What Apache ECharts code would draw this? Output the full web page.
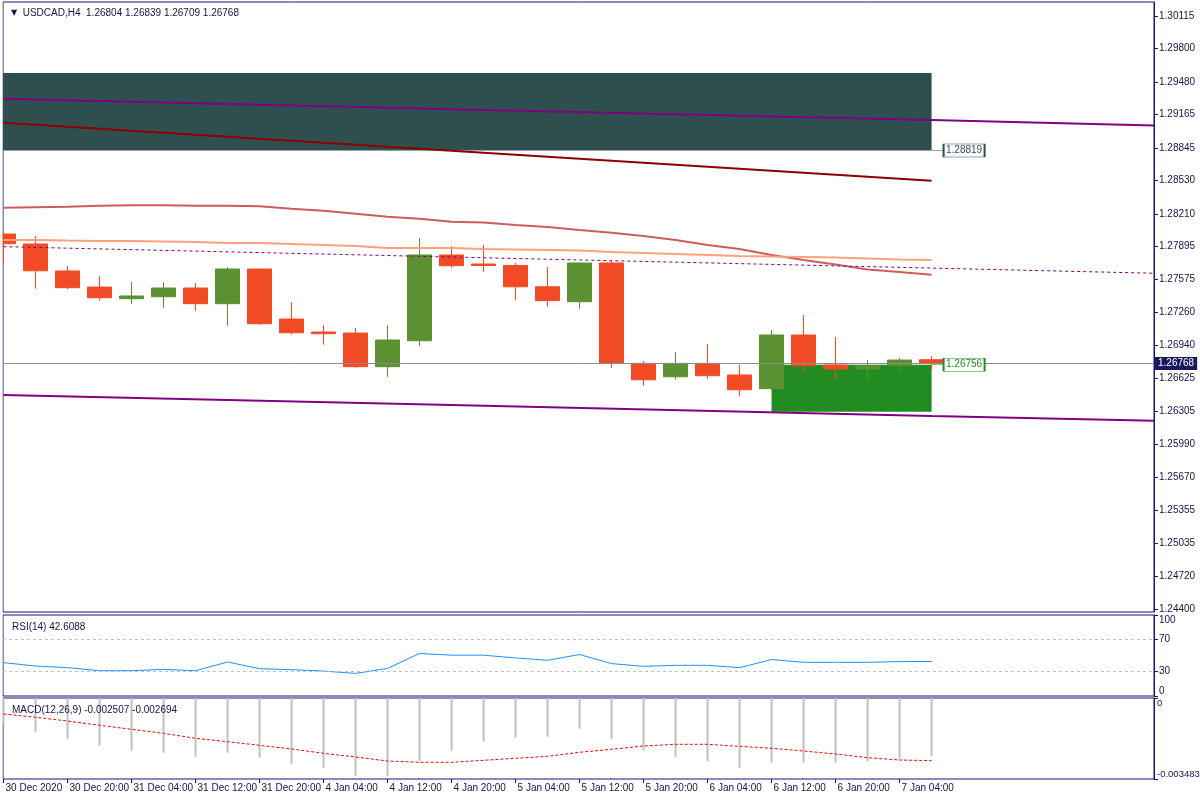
<!DOCTYPE html>
<html><head><meta charset="utf-8">
<script src="https://cdn.jsdelivr.net/npm/echarts@6/dist/echarts.min.js"></script>
<style>html,body{margin:0;padding:0;background:#fff}#c{width:1200px;height:800px}</style>
</head><body><div id="c"></div><script>
// ---- data ----
const timeLabels = ['30 Dec 2020','30 Dec 20:00','31 Dec 04:00','31 Dec 12:00','31 Dec 20:00','4 Jan 04:00','4 Jan 12:00','4 Jan 20:00','5 Jan 04:00','5 Jan 12:00','5 Jan 20:00','6 Jan 04:00','6 Jan 12:00','6 Jan 20:00','7 Jan 04:00'];
const opens  = [1.28015,1.27919,1.27659,1.27504,1.27392,1.27411,1.27495,1.27344,1.27678,1.27196,1.27071,1.27061,1.26737,1.26987,1.27813,1.27726,1.27712,1.27507,1.27363,1.27736,1.26769,1.26640,1.26769,1.26657,1.26525,1.27042,1.26753,1.26715,1.26746,1.26804];
const highs  = [1.28037,1.27996,1.27707,1.27610,1.27553,1.27553,1.27543,1.27697,1.27680,1.27360,1.27138,1.27110,1.27138,1.27977,1.27899,1.27909,1.27739,1.27697,1.27740,1.27755,1.26792,1.26878,1.26955,1.26756,1.27090,1.27235,1.27023,1.26801,1.26821,1.26839];
const lows   = [1.27726,1.27488,1.27485,1.27373,1.27344,1.27305,1.27276,1.27132,1.27138,1.27045,1.26949,1.26727,1.26640,1.26939,1.27690,1.27652,1.27382,1.27315,1.27295,1.26727,1.26554,1.26611,1.26621,1.26457,1.26515,1.26689,1.26611,1.26621,1.26698,1.26709];
const closes = [1.27922,1.27661,1.27498,1.27401,1.27418,1.27495,1.27344,1.27678,1.27151,1.27064,1.27055,1.26737,1.26994,1.27813,1.27710,1.27712,1.27507,1.27373,1.27736,1.26769,1.26611,1.26769,1.26650,1.26515,1.27042,1.26746,1.26715,1.26746,1.26801,1.26768];

const maIndianRed = [1.28268,1.28273,1.28278,1.28288,1.28292,1.28292,1.28288,1.28288,1.28283,1.28259,1.28240,1.28211,1.28182,1.28162,1.28134,1.28126,1.28102,1.28083,1.28054,1.28028,1.27996,1.27957,1.27909,1.27871,1.27813,1.27765,1.27721,1.27673,1.27649,1.27623];
const maSalmon    = [1.27957,1.27957,1.27952,1.27948,1.27948,1.27943,1.27938,1.27928,1.27928,1.27919,1.27909,1.27899,1.27880,1.27880,1.27880,1.27871,1.27866,1.27861,1.27856,1.27842,1.27832,1.27823,1.27813,1.27803,1.27798,1.27794,1.27789,1.27779,1.27770,1.27765];
// [bar index, price] readings of straight lines
const maDarkRed     = [[0,1.29087],[14,1.28817],[29,1.28528]];
const channelUpper  = [[0,1.29318],[15,1.29210],[29,1.29113],[35.95,1.29060]];
const channelLower  = [[0,1.26464],[14,1.26368],[29,1.26262],[35.95,1.26217]];
const dashedLine    = [[0,1.27893],[29,1.27687],[35.95,1.27637]];

const rsi = [41.2,37.0,35.0,31.2,31.2,32.9,31.2,42.0,33.7,32.5,30.8,27.9,34.1,52.5,50.4,50.4,47.0,44.1,51.2,40.0,36.6,37.9,37.9,35.0,45.0,41.6,41.6,41.6,42.5,42.6];
const macdMain = [-0.001161,-0.001449,-0.001750,-0.002051,-0.002266,-0.002352,-0.002524,-0.002352,-0.002567,-0.002825,-0.002997,-0.003341,-0.003341,-0.002709,-0.002266,-0.001879,-0.001707,-0.001664,-0.001320,-0.001776,-0.002266,-0.002524,-0.002739,-0.002997,-0.002782,-0.002782,-0.002782,-0.002739,-0.002610,-0.002507];
const macdSignal = [-0.000688,-0.000830,-0.000989,-0.001174,-0.001346,-0.001518,-0.001733,-0.001879,-0.002034,-0.002193,-0.002378,-0.002537,-0.002709,-0.002765,-0.002765,-0.002679,-0.002593,-0.002507,-0.002335,-0.002206,-0.002064,-0.001991,-0.001991,-0.002077,-0.002163,-0.002279,-0.002408,-0.002567,-0.002666,-0.002694];

const priceTicks = ['1.30115','1.29800','1.29480','1.29165','1.28845','1.28530','1.28210','1.27895','1.27575','1.27260','1.26940','1.26625','1.26305','1.25990','1.25670','1.25355','1.25035','1.24720','1.24400'];
const rsiTicks = [0,30,70,100];
const macdTicks = [-0.003483,0];

const zoneSupplyTop = 1.29566, zoneSupplyBottom = 1.28819, zoneSupplyEnd = 29;
const zoneDemandTop = 1.26756, zoneDemandBottom = 1.26303, zoneDemandStart = 24, zoneDemandEnd = 29;
const lastPrice = 1.26768;

// ---- layout ----
const xMin = -0.016, xMax = 35.95;
const NAVY = '#16166e', TXT = '#14144a';
const FONT = 'Liberation Sans';
const RED = '#f14b25', GREEN = '#5b9131';

const chart = echarts.init(document.getElementById('c'), null, {renderer:'canvas'});
const grids = [
  {left:3, right:46, top:2, height:610},
  {left:3, right:46, top:615, height:81},
  {left:3, right:46, top:698, height:81}
].map(g => Object.assign(g, {show:true, borderColor:NAVY, borderWidth:1, containLabel:false, outerBoundsMode:'none'}));

const tickIdx = timeLabels.map((_, i) => i * 2);
const xAxes = [0,1,2].map(i => ({
  type:'value', gridIndex:i, min:xMin, max:xMax, show: i === 2, position:'bottom',
  axisLine:{show:false, onZero:false}, splitLine:{show:false},
  axisTick:{show:true, customValues:tickIdx, length:4, lineStyle:{color:NAVY}},
  axisLabel:{show:true, customValues:tickIdx, align:'left', margin:4, padding:[0,0,0,2],
    color:TXT, fontFamily:FONT, fontSize:10,
    formatter: v => timeLabels[Math.round(v/2)] || ''}
}));

function yAxisDef(gi, min, max, ticks, fmt, edgeAlign, fs, mg) {
  const lab = {customValues:ticks, color:TXT, fontFamily:FONT, fontSize:fs || 10, margin:mg || 5, formatter:fmt};
  if (edgeAlign) { lab.verticalAlignMinLabel = 'bottom'; lab.verticalAlignMaxLabel = 'top'; }
  return {type:'value', gridIndex:gi, min, max, position:'right', splitLine:{show:false},
    axisLine:{show:true, onZero:false, lineStyle:{color:NAVY}},
    axisTick:{show:true, inside:false, length:4, customValues:ticks, lineStyle:{color:NAVY}},
    axisLabel:lab};
}
const yAxes = [
  yAxisDef(0, 1.24374, 1.30250, priceTicks.map(Number), v => v.toFixed(5), false),
  yAxisDef(1, 0, 100, rsiTicks, v => String(v), true),
  yAxisDef(2, -0.003483, 0, macdTicks, v => v === 0 ? '0' : v.toFixed(6), true, 9.5, 3)
];

function lineSeries(data, color, width, type) {
  return {type:'line', xAxisIndex:0, yAxisIndex:0, data, showSymbol:false, symbol:'none', z:3, clip:true,
    lineStyle:{color, width, type: type || 'solid'}, silent:true};
}
const tagPath = 'path://M0,6.5H12M12,0H53V13H12Z';

const option = {
  animation:false,
  backgroundColor:'#ffffff',
  title:[
    {left:6, top:3, text:'{tri|▼}  USDCAD,H4  1.26804 1.26839 1.26709 1.26768',
      textStyle:{fontSize:10, fontWeight:'normal', color:TXT, fontFamily:FONT,
        rich:{tri:{fontSize:8, color:TXT, fontFamily:'DejaVu Sans'}}}},
    {left:7, top:617, text:'RSI(14) 42.6088', textStyle:{fontSize:10, fontWeight:'normal', color:TXT, fontFamily:FONT}},
    {left:7, top:700, text:'MACD(12,26,9) -0.002507 -0.002694', textStyle:{fontSize:10, fontWeight:'normal', color:TXT, fontFamily:FONT}}
  ],
  // white margin left of the chart frame (hides the part of the first candle outside the frame)
  graphic:[{type:'rect', left:0, top:0, z:50, silent:true, shape:{width:2.5, height:800}, style:{fill:'#ffffff'}}],
  grid:grids, xAxis:xAxes, yAxis:yAxes,
  series:[
    {type:'candlestick', xAxisIndex:0, yAxisIndex:0, z:2, barWidth:24, silent:true, clip:true,
      data: opens.map((o,i) => [i, o, closes[i], lows[i], highs[i]]),
      encode:{x:0, y:[1,2,3,4]},
      itemStyle:{color:GREEN, color0:RED, borderColor:GREEN, borderColor0:RED, borderWidth:1},
      markArea:{silent:true, data:[
        [{xAxis:xMin, yAxis:zoneSupplyTop, itemStyle:{color:'#2f4f4f'}}, {xAxis:zoneSupplyEnd, yAxis:zoneSupplyBottom}],
        [{xAxis:zoneDemandStart, yAxis:zoneDemandTop, itemStyle:{color:'#228b22'}}, {xAxis:zoneDemandEnd, yAxis:zoneDemandBottom}]
      ]},
      markLine:{silent:true, symbol:'none', precision:5,
        lineStyle:{color:'#8c8c8c', width:1, type:'solid'},
        label:{show:true, position:'end', distance:1, formatter:lastPrice.toFixed(5), color:'#ffffff',
          backgroundColor:'#191960', padding:[2,3,1,3], fontFamily:FONT, fontSize:10},
        data:[{yAxis:lastPrice}]},
      markPoint:{silent:true, data:[
        {coord:[zoneSupplyEnd, zoneSupplyBottom], symbol:tagPath, symbolSize:[53,13], symbolKeepAspect:false, symbolOffset:[26.5,0],
          itemStyle:{color:'#ffffff', borderColor:'#2f4f4f', borderWidth:1},
          label:{show:true, position:'inside', offset:[6,0], formatter:zoneSupplyBottom.toFixed(5), color:'#2f4f4f', fontFamily:FONT, fontSize:10}},
        {coord:[zoneDemandEnd, zoneDemandTop], symbol:tagPath, symbolSize:[53,13], symbolKeepAspect:false, symbolOffset:[26.5,0],
          itemStyle:{color:'#ffffff', borderColor:'#228b22', borderWidth:1},
          label:{show:true, position:'inside', offset:[6,0], formatter:zoneDemandTop.toFixed(5), color:'#228b22', fontFamily:FONT, fontSize:10}}
      ]}
    },
    lineSeries(channelUpper, '#800080', 2),
    lineSeries(channelLower, '#800080', 2),
    lineSeries(maDarkRed, '#8b0000', 2),
    lineSeries(maIndianRed.map((v,i)=>[i,v]), '#cd5c5c', 2),
    lineSeries(maSalmon.map((v,i)=>[i,v]), '#ffa07a', 2),
    lineSeries(dashedLine, '#800080', 1, [3,3]),
    {type:'line', xAxisIndex:1, yAxisIndex:1, data: rsi.map((v,i)=>[i,v]), showSymbol:false, symbol:'none', silent:true,
      lineStyle:{color:'#1e90ff', width:1},
      markLine:{silent:true, symbol:'none', label:{show:false}, lineStyle:{color:'#c0c0c0', type:[3,3], width:1},
        data:[{yAxis:70},{yAxis:30}]}},
    {type:'bar', xAxisIndex:2, yAxisIndex:2, data: macdMain.map((v,i)=>[i,v]), barWidth:2, silent:true,
      itemStyle:{color:'#c0c0c0'}},
    {type:'line', xAxisIndex:2, yAxisIndex:2, data: macdSignal.map((v,i)=>[i,v]), showSymbol:false, symbol:'none', silent:true,
      lineStyle:{color:'#ff0000', width:1, type:[3,2]}}
  ]
};
chart.setOption(option);
</script></body></html>
